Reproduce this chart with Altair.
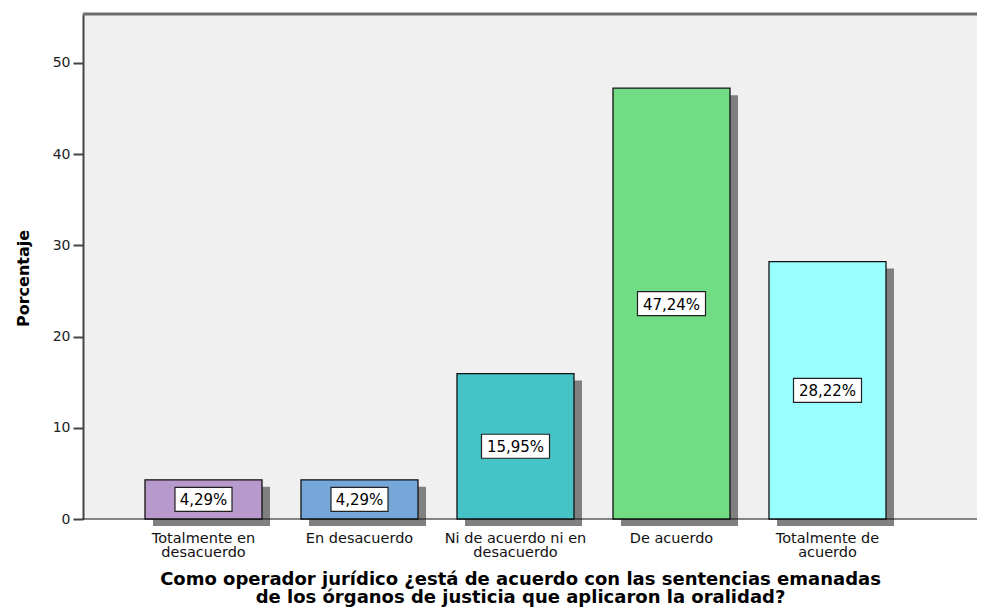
import altair as alt
import pandas as pd

categories = ["Totalmente en desacuerdo", "En desacuerdo",
              "Ni de acuerdo ni en desacuerdo", "De acuerdo",
              "Totalmente de acuerdo"]
tick_lines = [["Totalmente en", "desacuerdo"], ["En desacuerdo"],
              ["Ni de acuerdo ni en", "desacuerdo"], ["De acuerdo"],
              ["Totalmente de", "acuerdo"]]
values = [4.29, 4.29, 15.95, 47.24, 28.22]
value_labels = ["4,29%", "4,29%", "15,95%", "47,24%", "28,22%"]
colors = ["#b899cb", "#75a7d8", "#46c3c6", "#71dc84", "#99ffff"]

df = pd.DataFrame({"cat": categories, "value": values, "lbl": value_labels})
df["mid"] = df["value"] / 2

W, H = 894, 505
FONT = "DejaVu Sans"

expr = "''"
for c, lines in zip(reversed(categories), reversed(tick_lines)):
    arr = "[" + ",".join("'" + s + "'" for s in lines) + "]"
    expr = f"datum.label == '{c}' ? {arr} : ({expr})"

xscale = alt.Scale(domain=categories, range=[42.5, 822.5],
                   paddingInner=0.25, paddingOuter=0.125)
yscale = alt.Scale(domain=[0, 55.37], nice=False, zero=True)

x_axis = alt.Axis(
    title=["Como operador jurídico ¿está de acuerdo con las sentencias emanadas",
           "de los órganos de justicia que aplicaron la oralidad?"],
    labelExpr=expr, labelAngle=0, labelFont=FONT, labelFontSize=14.5,
    labelLineHeight=14.5, labelColor="#111", labelPadding=7,
    tickSize=5, tickColor="#333", tickWidth=1.5,
    domain=False,
    titleFont=FONT, titleFontSize=18, titleFontWeight="bold",
    titleLineHeight=18, titleColor="#000", titleX=437, titleY=65,
    titleAlign="center", titleBaseline="alphabetic")

y_axis = alt.Axis(
    title="Porcentaje", values=[0, 10, 20, 30, 40, 50], grid=False,
    labelFont=FONT, labelFontSize=14, labelColor="#222", labelPadding=3,
    tickSize=10, tickColor="#444", tickWidth=2,
    domainColor="#444", domainWidth=2,
    titleFont=FONT, titleFontSize=16, titleFontWeight="bold",
    titleColor="#000", titleX=-60, titleY=264, titleAngle=-90,
    titleAlign="center", titleBaseline="middle")

base = alt.Chart(df)

shadow = base.mark_bar(color="#808080", xOffset=8, yOffset=7).encode(
    x=alt.X("cat:N", scale=xscale, axis=x_axis, sort=categories),
    y=alt.Y("value:Q", scale=yscale, axis=y_axis),
)

one = pd.DataFrame({"k": [0]})
baseline = alt.Chart(one).mark_rule(color="#111", strokeWidth=1).encode(
    x=alt.value(0), x2=alt.value(W), y=alt.value(H))

bars = base.mark_bar(stroke="#111", strokeWidth=1.3).encode(
    x=alt.X("cat:N", scale=xscale, sort=categories),
    y=alt.Y("value:Q", scale=yscale),
    color=alt.Color("cat:N", scale=alt.Scale(domain=categories, range=colors),
                    legend=None),
)

box_short = base.transform_filter("datum.value < 10").mark_rect(
    width=57, height=24, fill="white", stroke="#222", strokeWidth=1.2).encode(
    x=alt.X("cat:N", scale=xscale, sort=categories),
    y=alt.Y("mid:Q", scale=yscale),
)
box_long = base.transform_filter("datum.value >= 10").mark_rect(
    width=68, height=24, fill="white", stroke="#222", strokeWidth=1.2).encode(
    x=alt.X("cat:N", scale=xscale, sort=categories),
    y=alt.Y("mid:Q", scale=yscale),
)

texts = base.mark_text(font=FONT, fontSize=15, color="#000",
                       baseline="middle", align="center", dy=1).encode(
    x=alt.X("cat:N", scale=xscale, sort=categories),
    y=alt.Y("mid:Q", scale=yscale),
    text="lbl:N",
)

top_rule = alt.Chart(one).mark_rule(
    color="#6e6e6e", strokeWidth=3).encode(
    x=alt.value(0), x2=alt.value(W), y=alt.value(0))

chart = alt.layer(shadow, baseline, bars, box_short, box_long, texts,
                  top_rule).properties(
    width=W, height=H,
    padding={"left": 75, "top": 6, "right": 0, "bottom": 88},
    autosize=alt.AutoSizeParams(type="none"),
    background="white",
).configure_view(fill="#f0f0f0", stroke=None)

chart.save("out.html", embed_options={"renderer": "svg", "actions": False})
